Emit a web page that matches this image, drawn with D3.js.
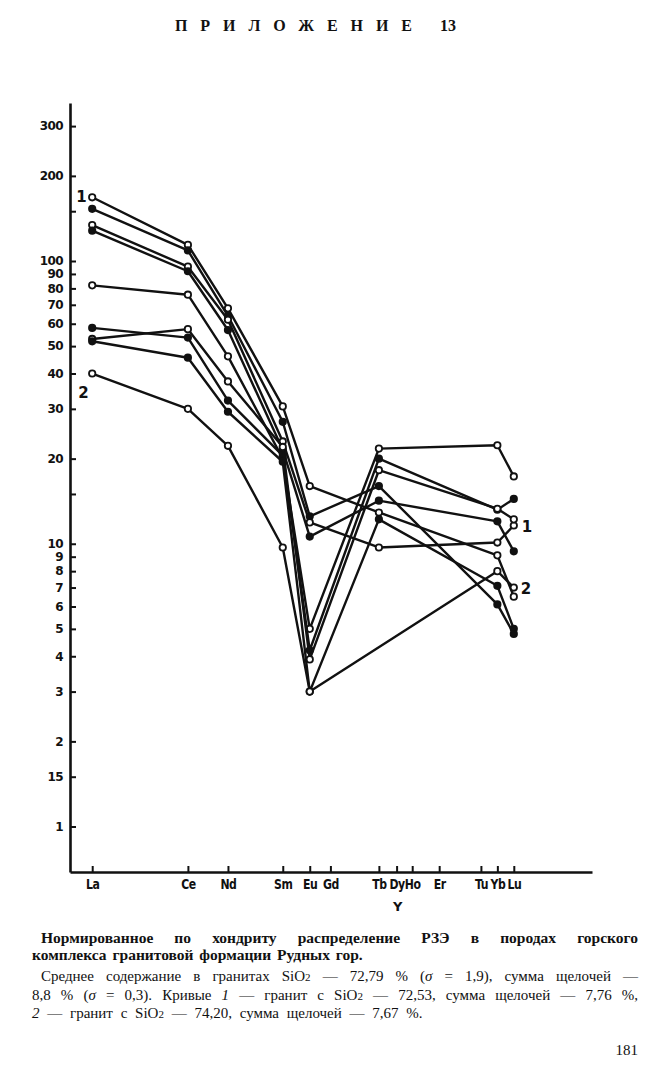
<!DOCTYPE html>
<html>
<head>
<meta charset="utf-8">
<script src="https://cdn.jsdelivr.net/npm/d3@7/dist/d3.min.js"></script>
<style>
  html, body { margin: 0; padding: 0; background: #fff; }
  svg { display: block; }
</style>
</head>
<body>
<svg id="chart" width="654" height="1068"></svg>
<script>
// ---------------- DATA ----------------
const elements = ["La","Ce","Nd","Sm","Eu","Gd","Tb","Dy","Ho","Er","Tu","Yb","Lu"];
// relative position of each element along the original horizontal axis (0 = La, 100 = Lu)
const elementAxisPos = [0, 22.7, 32.2, 45.2, 51.6, 56.5, 68.0, 72.2, 75.9, 82.3, 92.2, 96.1, 100];
const sampledElements = ["La","Ce","Nd","Sm","Eu","Tb","Yb","Lu"];

// chondrite-normalised REE values, one array per granite sample (null = not determined)
const curveA = [168, 114, 68, 30.6, 16.0, 12.9, 9.1, 6.5];
const curveB = [153, 109, 64, 27.0, 12.5, 16.0, 6.1, 4.8];
const curveC = [134, 95.5, 62, 23.0, 11.9, 9.7, 10.1, 11.6];
const curveD = [128, 92, 57, 21.5, 10.6, 14.2, 12.0, 9.4];
const curveE = [82, 76, 46, 20.0, 5.0, 21.7, 22.3, 17.3];
const curveF = [58, 53.6, 32.1, 20.5, 4.2, 20.0, 13.2, 14.4];
const curveG = [53, 57.4, 37.5, 22.0, 3.9, 18.2, 13.3, 12.2];
const curveH = [52, 45.5, 29.3, 19.5, 3.0, 12.2, 7.1, 5.0];
const curveI = [40, 30, 22.2, 9.7, 3.0, null, 8.0, 7.0];
const curves = [curveA, curveB, curveC, curveD, curveE, curveF, curveG, curveH, curveI];

const yTickValues = [300,200,150,100,90,80,70,60,50,40,30,20,15,10,9,8,7,6,5,4,3,2,1.5,1];
const yTickLabels = ["300","200","","100","90","80","70","60","50","40","30","20","","10","9","8","7","6","5","4","3","2","15","1"];

// marker style per curve (open / filled)
const markerFilled = [false, true, false, true, false, true, false, true, false];

// ---------------- DRAW ----------------
const svg = d3.select("#chart");

const y = d3.scaleLog().domain([1, 100]).range([826.5, 261]);
const x = d3.scaleLinear().domain([0, 100]).range([92.2, 513.8]);
const yAxisScale = y.copy().domain([y.invert(872), y.invert(103)]).range([872, 103]);
const xAxisScale = x.copy().domain([x.invert(70), x.invert(592)]).range([70, 592]);

const posOf = name => elementAxisPos[elements.indexOf(name)];
const handFont = "'DejaVu Sans',sans-serif";

// Y axis
const gy = svg.append("g").attr("transform", "translate(70,0)")
  .call(d3.axisLeft(yAxisScale)
    .tickValues(yTickValues)
    .tickSizeInner(-6).tickSizeOuter(0).tickPadding(7)
    .tickFormat((d, i) => yTickLabels[i]));
gy.select(".domain").attr("stroke", "#111").attr("stroke-width", 2.6);
gy.selectAll(".tick line").attr("stroke", "#111").attr("stroke-width", 2);
gy.selectAll(".tick text").attr("font-family", handFont).attr("font-weight", "bold")
  .attr("font-size", 12).attr("letter-spacing", -0.6).attr("fill", "#111");

// X axis
const gx = svg.append("g").attr("transform", "translate(0,872)")
  .call(d3.axisBottom(xAxisScale)
    .tickValues(elementAxisPos)
    .tickSizeInner(-6).tickSizeOuter(0).tickPadding(7)
    .tickFormat((d, i) => elements[i]));
gx.select(".domain").attr("stroke", "#111").attr("stroke-width", 2.6);
gx.selectAll(".tick line").attr("stroke", "#111").attr("stroke-width", 2);
gx.selectAll(".tick text").attr("font-family", handFont).attr("font-weight", "bold")
  .attr("font-size", 14).attr("letter-spacing", -0.6).attr("fill", "#111")
  .attr("transform", "scale(0.78,1)");
// extra "Y" under Dy
svg.append("text").attr("x", x(posOf("Dy")) + 1).attr("y", 911)
  .attr("text-anchor", "middle").attr("font-family", handFont).attr("font-weight", "bold")
  .attr("font-size", 13).attr("fill", "#111").text("Y");

// Curves
const line = d3.line().x(d => x(posOf(d.el))).y(d => y(d.v));
curves.forEach((c, ci) => {
  const pts = sampledElements.map((el, i) => ({ el, v: c[i] })).filter(d => d.v != null);
  svg.append("path").datum(pts).attr("d", line)
    .attr("fill", "none").attr("stroke", "#111").attr("stroke-width", 2.4)
    .attr("stroke-linejoin", "round");
  svg.append("g").selectAll("circle").data(pts).join("circle")
    .attr("cx", d => x(posOf(d.el))).attr("cy", d => y(d.v))
    .attr("r", 3.2)
    .attr("fill", markerFilled[ci] ? "#111" : "#fff")
    .attr("stroke", "#111").attr("stroke-width", 1.8);
});

// curve labels 1 and 2
const lab = (txt, el, v, dx, dy) => svg.append("text")
  .attr("x", x(posOf(el)) + dx).attr("y", y(v) + dy)
  .attr("font-family", handFont).attr("font-weight", "bold").attr("font-size", 15)
  .attr("fill", "#111").text(txt);
lab("1", "La", curveA[0], -16, 5);
lab("2", "La", curveI[0], -14, 24);
lab("1", "Lu", curveC[7], 8, 6);
lab("2", "Lu", curveI[7], 7, 6);

// Header
const serif = "'Liberation Serif','DejaVu Serif',serif";
svg.append("text").attr("x", 175).attr("y", 31)
  .attr("font-family", serif).attr("font-weight", "bold").attr("font-size", 16)
  .attr("textLength", 237).attr("lengthAdjust", "spacing").attr("fill", "#111")
  .text("ПРИЛОЖЕНИЕ");
svg.append("text").attr("x", 440).attr("y", 31)
  .attr("font-family", serif).attr("font-weight", "bold").attr("font-size", 16)
  .attr("fill", "#111").text("13");

// Caption (justified by word spacing)
function textLine(xx, yy, width, parts, opts = {}) {
  const t = svg.append("text").attr("x", xx).attr("y", yy)
    .attr("font-family", serif).attr("font-size", opts.size || 15)
    .attr("font-weight", opts.bold ? "bold" : "normal").attr("fill", "#111");
  parts.forEach(p => {
    const s = t.append("tspan").text(p.t);
    if (p.i) s.attr("font-style", "italic");
    if (p.sub) s.attr("font-size", 11);
  });
  const spaces = parts.map(p => p.t).join("").split(" ").length - 1;
  if (width) {
    const w = t.node().getComputedTextLength();
    t.attr("word-spacing", Math.max(0, (width - w) / spaces));
  } else if (opts.ws) {
    t.attr("word-spacing", opts.ws);
  }
  return t;
}
textLine(41, 943, 597, [{t: "Нормированное по хондриту распределение РЗЭ в породах горского"}], {bold: true, size: 15.5});
textLine(32, 960, null, [{t: "комплекса гранитовой формации Рудных гор."}], {bold: true, size: 15.5, ws: 2});
textLine(41, 981, 597, [{t: "Среднее содержание в гранитах SiO"}, {t: "2", sub: true}, {t: " — 72,79 % ("}, {t: "σ", i: true}, {t: " = 1,9), сумма щелочей —"}]);
textLine(32, 1000, 606, [{t: "8,8 % ("}, {t: "σ", i: true}, {t: " = 0,3). Кривые "}, {t: "1", i: true}, {t: " — гранит с SiO"}, {t: "2", sub: true}, {t: " — 72,53, сумма щелочей — 7,76 %,"}]);
textLine(32, 1018, null, [{t: "2", i: true}, {t: " — гранит с SiO"}, {t: "2", sub: true}, {t: " — 74,20, сумма щелочей — 7,67 %."}], {ws: 4});

svg.append("text").attr("x", 638).attr("y", 1055).attr("text-anchor", "end")
  .attr("font-family", serif).attr("font-size", 15).attr("fill", "#111").text("181");
</script>
</body>
</html>
